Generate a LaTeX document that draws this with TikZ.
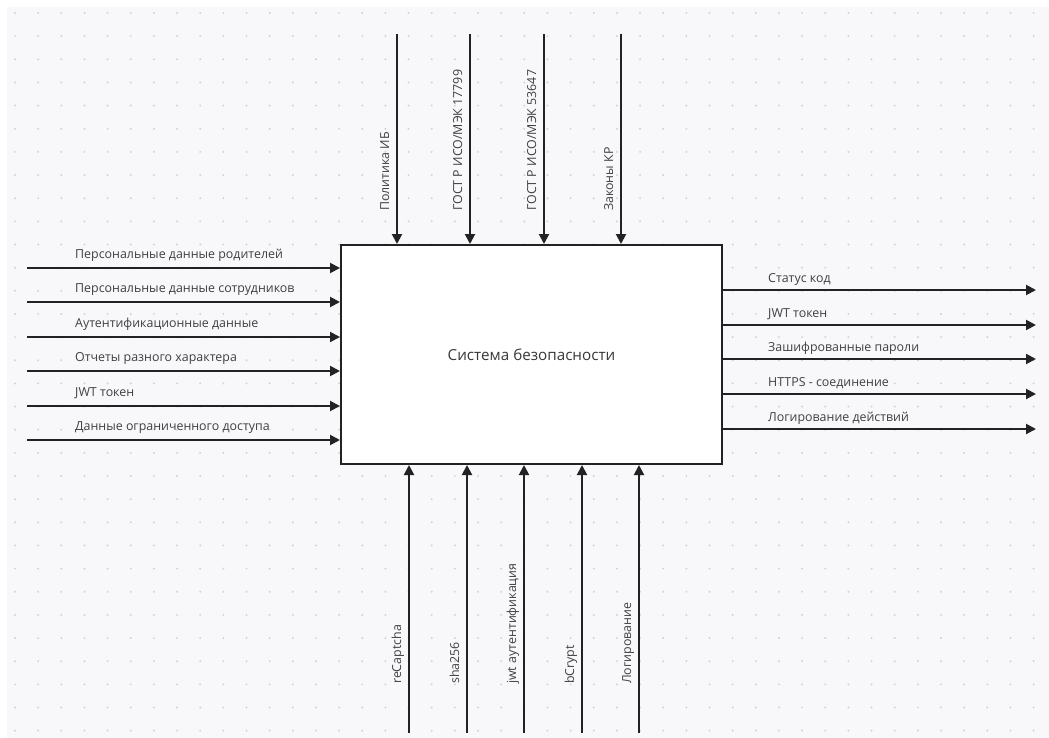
\documentclass[tikz,border=0pt]{standalone}
\usepackage{fontspec}
\setmainfont{Open Sans}
\usetikzlibrary{arrows.meta}
\definecolor{canvas}{HTML}{F8F8FB}
\definecolor{griddot}{HTML}{D2D2D8}
\definecolor{ink}{HTML}{222222}
\definecolor{labelgray}{HTML}{404040}
\begin{document}
\begin{tikzpicture}[x=1pt,y=-1pt,
  flow/.style={draw=ink,line width=2pt,-{Triangle[length=10pt,width=10pt]}},
  lbl/.style={text=labelgray,font=\fontsize{12.4}{14}\selectfont,inner sep=0pt},
  vlbl/.style={lbl,rotate=90,anchor=base west},
  hlbl/.style={lbl,anchor=base west},
  sysbox/.style={draw=ink,line width=2pt,fill=white,minimum width=381pt,minimum height=219pt,
    font=\fontsize{15.2}{18}\selectfont,text=ink!90}]
\useasboundingbox (0,0) rectangle (1049,738);
% canvas with dotted grid
\fill[canvas] (7,7) rectangle (1049,738);
\foreach \i in {0,...,44}{
  \foreach \j in {0,...,31}{
    \fill[griddot] ({15+23.15*\i},{13+23.15*\j}) circle (1.1pt);
  }
}
% function block
\node[sysbox] (sys) at (531.5,354.5) {Система безопасности};

% controls (top)
\foreach \n/\x in {c1/397,c2/470,c3/544,c4/621}{
  \coordinate (\n) at (\x,34);
  \draw[flow] (\n) -- (\n |- sys.north);
}
\node[vlbl] (lc1) at (389,211) {Политика ИБ};
\node[vlbl] (lc2) at (462,211) {ГОСТ Р ИСО/МЭК 17799};
\node[vlbl] (lc3) at (536,211) {ГОСТ Р ИСО/МЭК 53647};
\node[vlbl] (lc4) at (613,211) {Законы КР};

% mechanisms (bottom)
\foreach \n/\x in {m1/409,m2/467,m3/524,m4/582,m5/639}{
  \coordinate (\n) at (\x,733);
  \draw[flow] (\n) -- (\n |- sys.south);
}
\node[vlbl] (lm1) at (401,684) {reCaptcha};
\node[vlbl] (lm2) at (459,684) {sha256};
\node[vlbl] (lm3) at (516,684) {jwt аутентификация};
\node[vlbl] (lm4) at (574,684) {bCrypt};
\node[vlbl] (lm5) at (631,684) {Логирование};

% inputs (left)
\foreach \n/\y in {i1/268,i2/302,i3/337,i4/371,i5/406,i6/440}{
  \coordinate (\n) at (27,\y);
  \draw[flow] (\n) -- (\n -| sys.west);
}
\node[hlbl] (li1) at (75,258) {Персональные данные родителей};
\node[hlbl] (li2) at (75,292) {Персональные данные сотрудников};
\node[hlbl] (li3) at (75,327) {Аутентификационные данные};
\node[hlbl] (li4) at (75,361) {Отчеты разного характера};
\node[hlbl] (li5) at (75,396) {JWT токен};
\node[hlbl] (li6) at (75,430) {Данные ограниченного доступа};

% outputs (right)
\foreach \n/\y in {o1/290,o2/325,o3/359,o4/394,o5/429}{
  \coordinate (\n) at (1036,\y);
  \draw[flow] (\n -| sys.east) -- (\n);
}
\node[hlbl] (lo1) at (768,282) {Статус код};
\node[hlbl] (lo2) at (768,317) {JWT токен};
\node[hlbl] (lo3) at (768,351) {Зашифрованные пароли};
\node[hlbl] (lo4) at (768,386) {HTTPS - соединение};
\node[hlbl] (lo5) at (768,421) {Логирование действий};
\end{tikzpicture}
\end{document}
